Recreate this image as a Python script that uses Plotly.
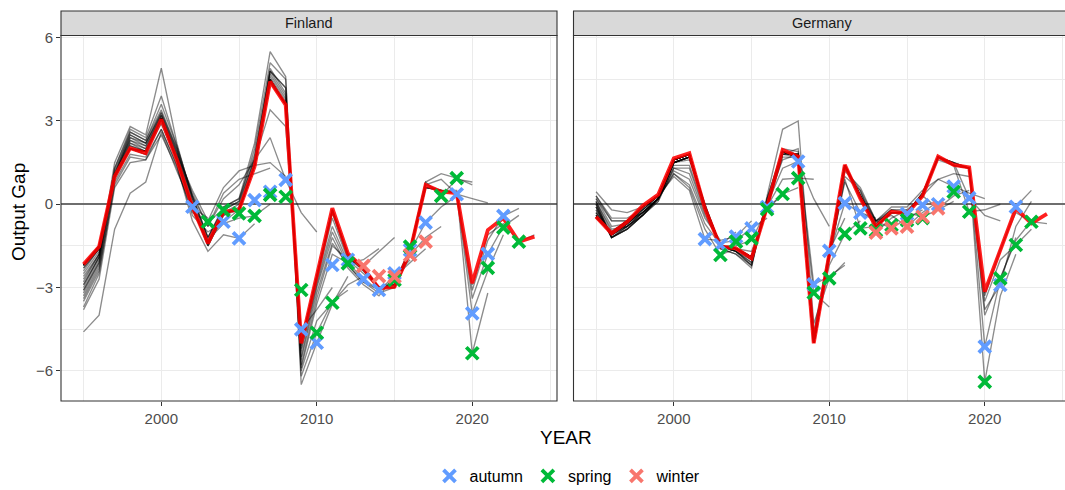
import plotly.graph_objects as go

# ---------------------------------------------------------------------------
# Data: output gap estimates (percent of potential output), 1995-2024
# ---------------------------------------------------------------------------
YEARS = list(range(1995, 2025))

# latest estimate per country
fin_latest = [-2.16, -1.53, 1.0, 2.02, 1.84, 3.06, 1.6, -0.09, -1.41, -0.27,
              -0.2, 1.36, 4.42, 3.58, -5.01, -2.55, -0.14, -1.77, -2.31, -3.03,
              -2.97, -1.71, 0.7, 0.45, 0.4, -2.85, -0.93, -0.5, -1.35, -1.17]
deu_latest = [-0.45, -1.05, -0.63, -0.05, 0.35, 1.66, 1.84, -0.15, -1.53, -1.59,
              -1.95, -0.09, 1.96, 1.72, -5.01, -1.77, 1.42, 0.2, -0.81, -0.27,
              -0.33, 0.3, 1.72, 1.42, 1.33, -3.15, -1.65, -0.15, -0.69, -0.35]

# earlier forecast vintages, each series starts in 1995
fin_vintages = {
    "2002 autumn": [-4.6, -4.0, -0.9, 0.4, 0.8, 2.6, 1.2, -0.1, -0.5],
    "2003 spring": [-3.8, -2.7, 0.6, 1.5, 1.6, 2.5, 1.3, -0.3, -0.63, -0.2],
    "2004 autumn": [-3.7, -2.5, 0.8, 1.8, 1.7, 2.7, 1.4, -0.4, -1.0, -0.63, -0.2],
    "2005 autumn": [-3.5, -2.4, 0.7, 1.7, 1.6, 2.7, 1.4, -0.6, -1.7, -1.1, -1.23, -0.7],
    "2006 spring": [-3.4, -2.3, 0.9, 2.0, 1.9, 2.9, 1.6, -0.2, -1.3, -0.7, -0.5, -0.42, 0.0],
    "2006 autumn": [-3.3, -2.2, 1.0, 2.2, 2.0, 3.0, 1.7, 0.3, -0.8, 0.4, 0.9, 1.1, 1.3],
    "2007 autumn": [-3.2, -2.1, 1.1, 2.3, 2.1, 3.1, 1.8, 0.5, -0.6, 0.6, 1.2, 1.4, 1.5, 1.0],
    "2008 autumn": [-3.1, -2.1, 1.1, 2.4, 2.2, 3.2, 1.9, 0.4, -0.8, 0.2, 0.7, 1.6, 2.4, 0.88,
                    -0.3, -1.0],
    "2009 autumn": [-3.1, -2.0, 1.2, 2.5, 2.2, 3.3, 2.0, 0.2, -1.2, -0.2, 0.1, 1.6, 3.4, 2.8,
                    -4.51, -3.8, -3.0],
    "2010 spring": [-3.0, -1.9, 1.3, 2.6, 2.3, 3.6, 2.1, 0.3, -1.2, -0.1, 0.2, 1.8, 4.8, 4.2,
                    -6.2, -4.63, -3.5, -3.1],
    "2010 autumn": [-2.9, -1.9, 1.5, 2.8, 2.5, 4.9, 2.2, 0.2, -1.3, -0.2, 0.1, 2.0, 5.1, 4.5,
                    -6.5, -4.99, -3.6, -2.6],
    "2011 spring": [-2.9, -1.9, 1.3, 2.7, 2.4, 3.9, 2.1, 0.3, -1.2, -0.1, 0.2, 2.2, 5.5, 4.6,
                    -6.0, -4.2, -3.55, -2.9, -2.6],
    "2012 spring": [-2.8, -1.8, 1.1, 2.6, 2.3, 3.4, 2.0, 0.1, -1.4, -0.3, 0.0, 1.7, 4.8, 4.2,
                    -5.9, -3.6, -1.8, -2.13, -2.0, -1.6],
    "2013 winter": [-2.7, -1.8, 1.0, 2.5, 2.2, 3.3, 1.9, 0.0, -1.5, -0.4, -0.1, 1.6, 4.9, 4.0,
                    -5.8, -3.4, -1.5, -2.0, -2.22, -1.7, -1.2],
    "2014 autumn": [-2.6, -1.8, 1.0, 2.4, 2.1, 3.2, 1.8, -0.1, -1.5, -0.4, -0.2, 1.5, 4.8, 3.9,
                    -5.6, -3.2, -1.4, -2.2, -2.8, -3.09, -2.6, -2.0],
    "2015 winter": [-2.5, -1.7, 1.0, 2.3, 2.0, 3.2, 1.7, -0.1, -1.5, -0.3, -0.2, 1.4, 4.7, 3.8,
                    -5.5, -3.0, -1.2, -2.3, -2.9, -3.3, -2.61, -2.1, -1.6],
    "2016 winter": [-2.4, -1.6, 1.0, 2.2, 1.9, 3.1, 1.7, -0.1, -1.4, -0.3, -0.2, 1.4, 4.6, 3.7,
                    -5.3, -2.9, -1.0, -2.2, -2.8, -3.2, -3.0, -1.83, -1.2, -0.8],
    "2017 autumn": [-2.3, -1.6, 1.0, 2.1, 1.9, 3.1, 1.6, -0.1, -1.4, -0.3, -0.2, 1.4, 4.5, 3.6,
                    -5.2, -2.8, -0.8, -2.1, -2.7, -3.1, -2.9, -1.7, -0.66, -0.1, 0.3],
    "2018 spring": [-2.3, -1.6, 1.0, 2.1, 1.9, 3.1, 1.6, -0.1, -1.4, -0.3, -0.2, 1.4, 4.5, 3.6,
                    -5.1, -2.7, -0.5, -2.0, -2.5, -3.0, -2.8, -1.6, 0.8, 0.3, 0.9, 0.8],
    "2019 spring": [-2.2, -1.6, 1.0, 2.0, 1.9, 3.1, 1.6, -0.1, -1.4, -0.3, -0.2, 1.4, 4.5, 3.6,
                    -5.0, -2.6, -0.3, -1.9, -2.4, -3.0, -2.9, -1.6, 0.8, 1.1, 0.94, 0.7],
    "2019 autumn": [-2.2, -1.6, 1.0, 2.0, 1.9, 3.1, 1.6, -0.1, -1.4, -0.3, -0.2, 1.4, 4.5, 3.6,
                    -5.0, -2.6, -0.3, -1.9, -2.4, -3.0, -2.9, -1.6, 0.7, 0.9, 0.36, 0.2, 0.05],
    "2020 spring": [-2.2, -1.5, 1.0, 2.0, 1.9, 3.1, 1.6, -0.1, -1.4, -0.3, -0.2, 1.4, 4.5, 3.6,
                    -5.0, -2.6, -0.2, -1.8, -2.3, -3.0, -2.9, -1.7, 0.6, 0.5, 0.5, -5.37, -3.2],
    "2020 autumn": [-2.2, -1.5, 1.0, 2.0, 1.9, 3.1, 1.6, -0.1, -1.4, -0.3, -0.2, 1.4, 4.5, 3.6,
                    -5.0, -2.6, -0.2, -1.8, -2.3, -3.0, -2.9, -1.7, 0.6, 0.5, 0.4, -3.93, -2.4,
                    -1.1],
    "2021 autumn": [-2.2, -1.5, 1.0, 2.0, 1.9, 3.1, 1.6, -0.1, -1.4, -0.3, -0.2, 1.4, 4.4, 3.6,
                    -5.0, -2.6, -0.2, -1.8, -2.3, -3.0, -3.0, -1.7, 0.6, 0.5, 0.4, -3.4, -1.79,
                    -0.8, -0.4],
    "2022 autumn": [-2.2, -1.5, 1.0, 2.0, 1.8, 3.1, 1.6, -0.1, -1.4, -0.3, -0.2, 1.4, 4.4, 3.6,
                    -5.0, -2.6, -0.2, -1.8, -2.3, -3.0, -3.0, -1.7, 0.6, 0.5, 0.4, -3.1, -1.3,
                    -0.42, -0.15],
    "2023 spring": [-2.2, -1.5, 1.0, 2.0, 1.8, 3.1, 1.6, -0.1, -1.4, -0.3, -0.2, 1.4, 4.4, 3.6,
                    -5.0, -2.6, -0.2, -1.8, -2.3, -3.0, -3.0, -1.7, 0.7, 0.5, 0.4, -2.9, -1.1,
                    -0.7, -1.35, -1.1],
}

deu_vintages = {
    "2002 autumn": [0.45, -0.2, -0.3, -0.1, 0.3, 1.0, 0.5, -1.26, -1.3],
    "2003 spring": [0.3, -0.5, -0.5, -0.2, 0.2, 1.1, 0.6, -0.9, -1.83, -1.6],
    "2003 autumn": [0.3, -0.6, -0.6, -0.3, 0.2, 1.1, 0.7, -0.7, -1.47, -1.0],
    "2004 autumn": [0.2, -0.6, -0.6, -0.3, 0.2, 1.2, 0.9, -0.5, -1.3, -1.17, -0.6],
    "2005 autumn": [0.2, -0.8, -0.7, -0.3, 0.2, 1.3, 1.1, -0.4, -1.4, -1.3, -0.87, -0.5],
    "2006 spring": [0.1, -0.9, -0.8, -0.4, 0.1, 1.3, 1.3, -0.3, -1.5, -1.5, -1.3, -0.18, 0.4],
    "2007 spring": [0.1, -1.0, -0.8, -0.4, 0.1, 1.4, 1.4, -0.2, -1.5, -1.6, -1.7, -0.2, 0.37,
                    0.6],
    "2008 spring": [0.0, -1.1, -0.8, -0.4, 0.2, 1.5, 1.6, -0.1, -1.5, -1.6, -1.9, -0.1, 0.9,
                    0.94, 0.9],
    "2008 autumn": [0.0, -1.2, -0.9, -0.4, 0.2, 1.5, 1.7, 0.0, -1.5, -1.7, -2.0, 0.0, 1.3,
                    1.54, 0.2, -0.8],
    "2009 spring": [-0.1, -1.2, -0.9, -0.4, 0.2, 1.5, 1.7, 0.0, -1.5, -1.7, -2.1, 0.1, 1.6,
                    1.8, -3.19, -3.7],
    "2009 autumn": [-0.1, -1.2, -0.9, -0.4, 0.2, 1.5, 1.7, 0.0, -1.6, -1.8, -2.2, 0.0, 1.8,
                    2.0, -2.89, -2.6, -2.2],
    "2010 spring": [0.1, -1.2, -0.9, -0.4, 0.2, 1.5, 1.7, -0.1, -1.6, -1.8, -2.3, 0.3, 2.7,
                    3.0, -4.3, -2.67, -2.1],
    "2010 autumn": [0.0, -1.2, -0.8, -0.3, 0.2, 1.5, 1.7, -0.1, -1.5, -1.7, -2.2, 0.2, 1.9,
                    1.8, -4.6, -1.68, -0.5],
    "2011 spring": [-0.1, -1.2, -0.8, -0.3, 0.2, 1.5, 1.7, -0.1, -1.5, -1.7, -2.2, 0.2, 1.9,
                    1.8, -4.7, -2.2, -1.07, -0.6],
    "2011 autumn": [-0.2, -1.1, -0.8, -0.3, 0.2, 1.5, 1.7, -0.1, -1.5, -1.7, -2.1, 0.2, 2.0,
                    1.9, -4.9, -1.8, 0.04, -0.3, -0.5],
    "2012 spring": [-0.2, -1.1, -0.7, -0.3, 0.2, 1.5, 1.7, -0.1, -1.5, -1.6, -2.0, 0.0, 1.8,
                    1.7, -4.8, -2.0, 0.9, -0.87, -0.8],
    "2012 autumn": [-0.3, -1.1, -0.7, -0.2, 0.3, 1.6, 1.8, -0.1, -1.5, -1.6, -2.0, 0.0, 1.8,
                    1.8, -4.8, -1.8, 0.8, -0.3, -0.6, -0.2],
    "2013 winter": [-0.3, -1.1, -0.7, -0.2, 0.3, 1.6, 1.8, -0.1, -1.5, -1.6, -2.0, -0.1, 1.7,
                    1.7, -4.9, -1.9, 1.0, 0.5, -1.02, -0.5, -0.2],
    "2014 winter": [-0.3, -1.1, -0.7, -0.2, 0.3, 1.6, 1.8, -0.1, -1.5, -1.6, -1.9, -0.1, 1.8,
                    1.8, -5.0, -1.8, 1.2, 0.6, -0.6, -0.87, -0.5, -0.2],
    "2015 winter": [-0.4, -1.1, -0.7, -0.1, 0.3, 1.6, 1.8, -0.1, -1.5, -1.6, -1.9, -0.1, 1.9,
                    1.8, -5.0, -1.8, 1.3, 0.5, -0.6, -0.4, -0.81, -0.3, 0.1],
    "2016 winter": [-0.4, -1.1, -0.7, -0.1, 0.3, 1.6, 1.8, -0.1, -1.5, -1.6, -1.9, -0.1, 1.9,
                    1.7, -5.0, -1.8, 1.3, 0.4, -0.6, -0.3, -0.3, -0.45, -0.2, 0.1],
    "2017 winter": [-0.4, -1.1, -0.7, -0.1, 0.3, 1.6, 1.8, -0.1, -1.5, -1.6, -1.9, -0.1, 1.9,
                    1.7, -5.0, -1.8, 1.4, 0.3, -0.7, -0.2, -0.2, 0.3, -0.15, 0.3, 0.5],
    "2017 autumn": [-0.4, -1.0, -0.6, -0.1, 0.3, 1.6, 1.8, -0.1, -1.5, -1.6, -1.9, -0.1, 1.9,
                    1.7, -5.0, -1.8, 1.4, 0.3, -0.6, -0.1, -0.1, 0.5, 0.9, 1.1, 1.0],
    "2018 autumn": [-0.4, -1.0, -0.6, -0.1, 0.3, 1.6, 1.8, -0.1, -1.5, -1.6, -1.9, -0.1, 1.9,
                    1.7, -5.0, -1.8, 1.4, 0.3, -0.7, -0.2, -0.3, 0.3, 0.9, 0.64, 0.4, 0.2],
    "2019 spring": [-0.5, -1.0, -0.6, -0.1, 0.3, 1.6, 1.8, -0.1, -1.5, -1.6, -1.9, -0.1, 1.9,
                    1.7, -5.0, -1.8, 1.4, 0.3, -0.8, -0.3, -0.3, 0.4, 1.6, 1.4, -0.27, -0.2,
                    0.0],
    "2019 autumn": [-0.5, -1.0, -0.6, -0.1, 0.3, 1.6, 1.8, -0.1, -1.5, -1.6, -1.9, -0.1, 1.9,
                    1.7, -5.0, -1.8, 1.4, 0.3, -0.8, -0.3, -0.3, 0.4, 1.7, 1.5, 0.22, -0.4,
                    -0.6],
    "2020 spring": [-0.45, -1.05, -0.6, -0.1, 0.3, 1.6, 1.8, -0.1, -1.5, -1.6, -1.9, -0.1, 1.9,
                    1.7, -5.0, -1.8, 1.4, 0.3, -0.8, -0.3, -0.3, 0.4, 1.7, 1.5, 1.3, -6.4,
                    -3.3, -1.8],
    "2020 autumn": [-0.45, -1.05, -0.6, -0.1, 0.3, 1.6, 1.8, -0.1, -1.5, -1.6, -1.9, -0.1, 1.9,
                    1.7, -5.0, -1.8, 1.4, 0.3, -0.8, -0.3, -0.3, 0.4, 1.7, 1.5, 1.3, -5.13,
                    -2.7, -1.2],
    "2021 spring": [-0.45, -1.05, -0.6, -0.1, 0.3, 1.6, 1.8, -0.1, -1.5, -1.6, -1.9, -0.1, 1.9,
                    1.7, -5.0, -1.8, 1.4, 0.3, -0.8, -0.3, -0.3, 0.3, 1.7, 1.5, 1.3, -4.0,
                    -2.67, -1.3, -0.6],
    "2021 autumn": [-0.45, -1.05, -0.6, -0.1, 0.3, 1.6, 1.8, -0.1, -1.5, -1.6, -1.9, -0.1, 1.9,
                    1.7, -5.0, -1.8, 1.4, 0.3, -0.8, -0.3, -0.3, 0.3, 1.7, 1.4, 1.3, -3.8,
                    -2.91, -0.8, 0.1],
    "2022 spring": [-0.45, -1.05, -0.6, -0.1, 0.3, 1.6, 1.8, -0.1, -1.5, -1.6, -1.9, -0.1, 1.9,
                    1.7, -5.0, -1.8, 1.4, 0.2, -0.8, -0.3, -0.3, 0.3, 1.7, 1.4, 1.3, -3.5,
                    -2.0, -1.47, -0.9],
    "2022 autumn": [-0.45, -1.05, -0.6, -0.1, 0.3, 1.6, 1.8, -0.1, -1.5, -1.6, -1.9, -0.1, 1.9,
                    1.7, -5.0, -1.8, 1.4, 0.2, -0.8, -0.3, -0.3, 0.3, 1.7, 1.4, 1.3, -3.3,
                    -1.7, -0.09, 0.5],
    "2023 spring": [-0.45, -1.05, -0.6, -0.1, 0.3, 1.6, 1.8, -0.1, -1.5, -1.6, -1.9, -0.1, 1.9,
                    1.7, -5.0, -1.8, 1.4, 0.2, -0.8, -0.3, -0.3, 0.3, 1.7, 1.4, 1.3, -3.2,
                    -1.6, -0.3, -0.63, -0.7],
}

# current-year estimate published in each forecast round
fin_autumn_year = [2002, 2004, 2005, 2006, 2007, 2008, 2009, 2010, 2011, 2012, 2013, 2014,
                   2015, 2016, 2017, 2019, 2020, 2021, 2022]
fin_autumn_val = [-0.09, -0.63, -1.23, 0.15, 0.45, 0.88, -4.51, -4.99, -2.19, -2.0, -2.7,
                  -3.09, -2.49, -1.65, -0.66, 0.36, -3.93, -1.79, -0.42]
fin_spring_year = [2003, 2004, 2005, 2006, 2007, 2008, 2009, 2010, 2011, 2012, 2015, 2016,
                   2018, 2019, 2020, 2021, 2022, 2023]
fin_spring_val = [-0.63, -0.21, -0.33, -0.42, 0.34, 0.27, -3.09, -4.63, -3.55, -2.13, -2.73,
                  -1.53, 0.3, 0.94, -5.37, -2.29, -0.84, -1.35]
fin_winter_year = [2013, 2014, 2015, 2016, 2017]
fin_winter_val = [-2.22, -2.59, -2.61, -1.83, -1.35]

deu_autumn_year = [2002, 2003, 2004, 2005, 2006, 2008, 2009, 2010, 2011, 2012, 2015, 2016,
                   2017, 2018, 2019, 2020, 2021, 2022]
deu_autumn_val = [-1.26, -1.47, -1.17, -0.87, -0.1, 1.54, -2.89, -1.68, 0.04, -0.3, -0.35,
                  -0.03, 0.0, 0.64, 0.22, -5.13, -2.91, -0.09]
deu_spring_year = [2003, 2004, 2005, 2006, 2007, 2008, 2009, 2010, 2011, 2012, 2013, 2014,
                   2015, 2016, 2018, 2019, 2020, 2021, 2022, 2023]
deu_spring_val = [-1.83, -1.35, -1.23, -0.18, 0.37, 0.94, -3.19, -2.67, -1.07, -0.87, -0.95,
                  -0.75, -0.57, -0.5, 0.45, -0.27, -6.4, -2.67, -1.47, -0.63]
deu_winter_year = [2013, 2014, 2015, 2016, 2017]
deu_winter_val = [-1.02, -0.87, -0.81, -0.45, -0.15]

SEASON_COLORS = {"autumn": "#619CFF", "spring": "#00BA38", "winter": "#F8766D"}

# ---------------------------------------------------------------------------
# Figure geometry (pixels)
# ---------------------------------------------------------------------------
W, H = 1065, 490
PANEL_TOP, PANEL_BOTTOM = 35.5, 401.0
STRIP_TOP = 11.0
P1_LEFT, P1_RIGHT = 61.0, 557.0
P2_LEFT, P2_RIGHT = 573.5, 1065.0
PX_PER_YEAR = (P1_RIGHT - P1_LEFT) / 31.9
X_RANGE1 = [1993.55, 2025.45]
X_RANGE2 = [1993.55, 1993.55 + (P2_RIGHT - P2_LEFT) / PX_PER_YEAR]
Y_RANGE = [-7.09, 6.08]


def px_x(p):
    return p / W


def px_y(p):
    return (H - p) / H


FONT = "Liberation Sans, Arial, Helvetica, sans-serif"
fig = go.Figure()

panels = [
    ("x", "y", fin_vintages, fin_latest,
     {"autumn": (fin_autumn_year, fin_autumn_val),
      "spring": (fin_spring_year, fin_spring_val),
      "winter": (fin_winter_year, fin_winter_val)}),
    ("x2", "y2", deu_vintages, deu_latest,
     {"autumn": (deu_autumn_year, deu_autumn_val),
      "spring": (deu_spring_year, deu_spring_val),
      "winter": (deu_winter_year, deu_winter_val)}),
]

for i, (xa, ya, vintages, latest, rounds) in enumerate(panels):
    for name, vals in vintages.items():
        fig.add_trace(go.Scatter(
            x=YEARS[:len(vals)], y=vals, mode="lines", name=name,
            line=dict(color="rgba(0,0,0,0.45)", width=1.35),
            showlegend=False, hoverinfo="skip", xaxis=xa, yaxis=ya))
    fig.add_trace(go.Scatter(
        x=YEARS, y=latest, mode="lines", name="latest",
        line=dict(color="rgba(255,0,0,0.88)", width=3.8),
        showlegend=False, hoverinfo="skip", xaxis=xa, yaxis=ya))
    for season in ["autumn", "spring", "winter"]:
        yrs, vals = rounds[season]
        c = SEASON_COLORS[season]
        fig.add_trace(go.Scatter(
            x=yrs, y=vals, mode="markers", name=season, legendgroup=season,
            showlegend=(i == 0),
            marker=dict(symbol="x-thin", size=12, color=c,
                        line=dict(color=c, width=3.8)),
            xaxis=xa, yaxis=ya))

shapes = []
for (left, right) in [(P1_LEFT, P1_RIGHT), (P2_LEFT, P2_RIGHT + 3)]:
    # facet strip
    shapes.append(dict(type="rect", xref="paper", yref="paper",
                       x0=px_x(left), x1=px_x(right),
                       y0=px_y(PANEL_TOP), y1=px_y(STRIP_TOP),
                       fillcolor="#D9D9D9", line=dict(color="#333333", width=1.1),
                       layer="above"))
    # panel border
    shapes.append(dict(type="rect", xref="paper", yref="paper",
                       x0=px_x(left), x1=px_x(right),
                       y0=px_y(PANEL_BOTTOM), y1=px_y(PANEL_TOP),
                       fillcolor="rgba(0,0,0,0)", line=dict(color="#333333", width=1.1),
                       layer="above"))

strip_mid = px_y((STRIP_TOP + PANEL_TOP) / 2)
annotations = [
    dict(text="Finland", x=px_x((P1_LEFT + P1_RIGHT) / 2), y=strip_mid,
         xref="paper", yref="paper", xanchor="center", yanchor="middle", showarrow=False,
         font=dict(family=FONT, size=14.5, color="#1A1A1A")),
    dict(text="Germany", x=px_x((P2_LEFT + 1070.5) / 2), y=strip_mid,
         xref="paper", yref="paper", xanchor="center", yanchor="middle", showarrow=False,
         font=dict(family=FONT, size=14.5, color="#1A1A1A")),
    dict(text="YEAR", x=px_x(566), y=px_y(437), xref="paper", yref="paper",
         xanchor="center", yanchor="middle", showarrow=False,
         font=dict(family=FONT, size=19, color="#000000")),
    dict(text="Output Gap", x=px_x(19), y=px_y(212), xref="paper", yref="paper",
         xanchor="center", yanchor="middle", showarrow=False, textangle=-90,
         font=dict(family=FONT, size=19, color="#000000")),
]

grid_major = dict(showgrid=True, gridcolor="#EBEBEB", gridwidth=1.3)
minor_x = dict(tickvals=[1995, 2005, 2015, 2025], showgrid=True,
               gridcolor="#EBEBEB", gridwidth=0.6, ticks="")
minor_y = dict(tickvals=[-4.5, -1.5, 1.5, 4.5], showgrid=True,
               gridcolor="#EBEBEB", gridwidth=0.6, ticks="")

xcommon = dict(tickmode="array", tickvals=[2000, 2010, 2020], ticks="outside", ticklen=4,
               tickcolor="#333333", tickwidth=1.1, zeroline=False, showline=False,
               tickfont=dict(family=FONT, size=15, color="#4D4D4D"),
               minor=minor_x, **grid_major)
# the horizontal reference line at zero uses the axis zero line
ycommon = dict(range=Y_RANGE, tickmode="array", tickvals=[-6, -3, 0, 3, 6],
               zeroline=True, zerolinecolor="#6E6E6E", zerolinewidth=2,
               showline=False, minor=minor_y, **grid_major)

fig.update_layout(
    width=W, height=H, margin=dict(l=0, r=0, t=0, b=0, autoexpand=False),
    paper_bgcolor="white", plot_bgcolor="white",
    font=dict(family=FONT),
    xaxis=dict(domain=[px_x(P1_LEFT), px_x(P1_RIGHT)], range=X_RANGE1, anchor="y", **xcommon),
    xaxis2=dict(domain=[px_x(P2_LEFT), 1.0], range=X_RANGE2, anchor="y2", **xcommon),
    yaxis=dict(domain=[px_y(PANEL_BOTTOM), px_y(PANEL_TOP)], anchor="x", ticks="outside",
               ticklen=4, tickcolor="#333333", tickwidth=1.1,
               tickfont=dict(family=FONT, size=15, color="#4D4D4D"), **ycommon),
    yaxis2=dict(domain=[px_y(PANEL_BOTTOM), px_y(PANEL_TOP)], anchor="x2",
                showticklabels=False, ticks="", **ycommon),
    shapes=shapes, annotations=annotations,
    legend=dict(orientation="h", x=px_x(568), xanchor="center", y=px_y(476),
                yanchor="middle", font=dict(family=FONT, size=16, color="#000000"),
                bgcolor="rgba(0,0,0,0)", itemwidth=30, tracegroupgap=0),
    showlegend=True,
)

fig.write_html("out.html")
